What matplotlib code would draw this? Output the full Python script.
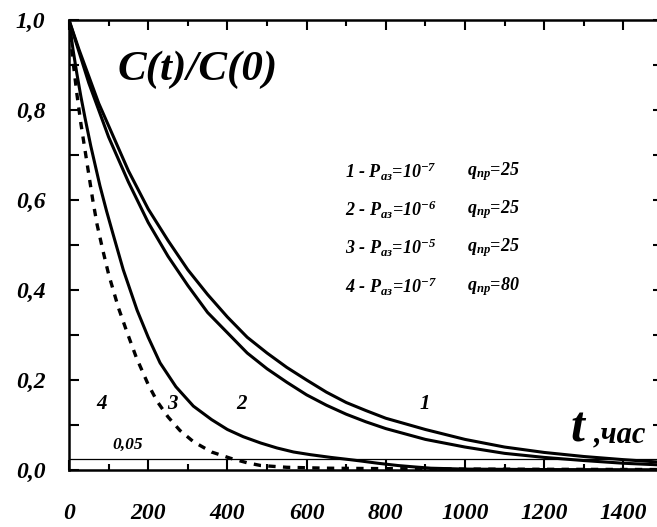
import matplotlib
matplotlib.use("Agg")
import matplotlib.pyplot as plt
from matplotlib.ticker import MultipleLocator, FuncFormatter

plt.rcParams["font.family"] = "Liberation Serif"
plt.rcParams["mathtext.fontset"] = "custom"
plt.rcParams["mathtext.rm"] = "Liberation Serif:bold:italic"
plt.rcParams["mathtext.it"] = "Liberation Serif:bold:italic"
plt.rcParams["mathtext.bf"] = "Liberation Serif:bold:italic"

# curves 1 and 2 (upper pair)
t_12 = [0, 25, 50, 75, 100, 150, 200, 250, 300, 350, 400, 450, 500, 550, 600, 650,
        700, 750, 800, 900, 1000, 1100, 1200, 1300, 1400, 1500]
c_1 = [1.0, 0.935, 0.875, 0.815, 0.765, 0.665, 0.58, 0.51, 0.445, 0.39, 0.34, 0.295,
       0.26, 0.228, 0.2, 0.173, 0.15, 0.132, 0.115, 0.09, 0.068, 0.051, 0.039, 0.03,
       0.023, 0.017]
c_2 = [1.0, 0.93, 0.86, 0.80, 0.74, 0.64, 0.55, 0.475, 0.41, 0.35, 0.305, 0.26,
       0.225, 0.195, 0.167, 0.144, 0.124, 0.107, 0.092, 0.068, 0.051, 0.037, 0.028,
       0.021, 0.015, 0.011]
# curve 3
t_3 = [0, 10, 20, 30, 41, 55, 78, 95, 111, 137, 172, 200, 230, 270, 314, 360, 400,
       440, 484, 525, 567, 610, 661, 700, 737, 780, 830, 870, 914, 1000, 1200, 1500]
c_3 = [1.0, 0.935, 0.88, 0.83, 0.78, 0.72, 0.632, 0.575, 0.525, 0.445, 0.355, 0.295,
       0.238, 0.185, 0.142, 0.112, 0.09, 0.074, 0.06, 0.049, 0.04, 0.034, 0.028,
       0.024, 0.02, 0.015, 0.01, 0.007, 0.004, 0.002, 0.001, 0.0005]
# curve 4 (dashed)
t_4 = [0, 10, 20, 30, 45, 60, 71, 85, 100, 125, 147, 170, 200, 223, 250, 280, 314,
       360, 408, 450, 484, 550, 650, 800, 1000, 1500]
c_4 = [1.0, 0.91, 0.835, 0.77, 0.685, 0.6, 0.545, 0.49, 0.435, 0.36, 0.305, 0.25,
       0.19, 0.152, 0.118, 0.088, 0.063, 0.04, 0.026, 0.016, 0.01, 0.006, 0.004,
       0.003, 0.002, 0.001]

level = 0.025

legend_lines = [
    "1 - P$_{аз}$=10$^{-7}$",
    "2 - P$_{аз}$=10$^{-6}$",
    "3 - P$_{аз}$=10$^{-5}$",
    "4 - P$_{аз}$=10$^{-7}$",
]
legend_q = ["q$_{пр}$=25", "q$_{пр}$=25", "q$_{пр}$=25", "q$_{пр}$=80"]
curve_labels = ["4", "3", "2", "1"]

fig = plt.figure(figsize=(6.57, 5.27), dpi=100)
ax = fig.add_axes([69 / 657, 1 - 470 / 527, (663 - 69) / 657, 450 / 527])

ax.plot(t_12, c_1, color="black", lw=2.2)
ax.plot(t_12, c_2, color="black", lw=2.2)
ax.plot(t_3, c_3, color="black", lw=2.2)
ax.plot(t_4, c_4, color="black", lw=2.4, ls=(0, (2.2, 2.2)))
ax.axhline(level, color="black", lw=0.9)

ax.set_xlim(0, 1500)
ax.set_ylim(0, 1.0)
ax.xaxis.set_major_locator(MultipleLocator(200))
ax.xaxis.set_minor_locator(MultipleLocator(100))
ax.yaxis.set_major_locator(MultipleLocator(0.2))
ax.yaxis.set_minor_locator(MultipleLocator(0.1))
ax.yaxis.set_major_formatter(FuncFormatter(lambda v, p: f"{v:.1f}".replace(".", ",")))
ax.xaxis.set_major_formatter(FuncFormatter(lambda v, p: f"{v:.0f}"))

ax.tick_params(which="both", direction="in", top=True, right=True, width=1.5)
ax.tick_params(which="major", length=7)
ax.tick_params(which="minor", length=4)
ax.tick_params(axis="y", which="minor", length=7)
ax.tick_params(axis="x", pad=24)
ax.tick_params(axis="y", pad=17)
for lab in ax.get_xticklabels():
    lab.set_fontsize(17)
for lab in ax.get_yticklabels():
    lab.set_fontsize(17)
for lab in ax.get_xticklabels() + ax.get_yticklabels():
    lab.set_fontweight("bold")
    lab.set_fontstyle("italic")
for s in ax.spines.values():
    s.set_linewidth(1.8)

bi = dict(fontweight="bold", fontstyle="italic", color="black")
fig.text(118 / 657, 1 - 80 / 527, "C(t)/C(0)", fontsize=31, ha="left", va="baseline", **bi)
fig.text(570 / 657, 1 - 442 / 527, "t", fontsize=36, ha="left", va="baseline", **bi)
fig.text(594 / 657, 1 - 442 / 527, ",час", fontsize=22, ha="left", va="baseline", **bi)

ys = [172, 210, 248, 287]
for y, a, b in zip(ys, legend_lines, legend_q):
    fig.text(345 / 657, 1 - y / 527, a, fontsize=13, ha="left", va="center", **bi)
    fig.text(467 / 657, 1 - y / 527, b, fontsize=13, ha="left", va="center", **bi)

for x, s in zip([102, 172, 242, 425], curve_labels):
    fig.text(x / 657, 1 - 404 / 527, s, fontsize=15, ha="center", va="center", **bi)
fig.text(128 / 657, 1 - 445 / 527, "0,05", fontsize=12.5, ha="center", va="center", **bi)

fig.savefig("out.png", dpi=100)
